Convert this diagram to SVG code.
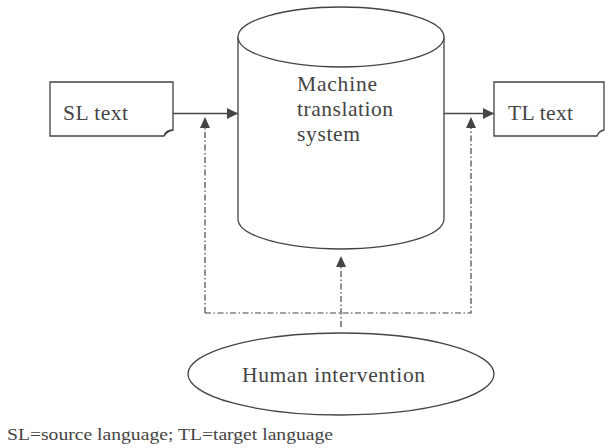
<svg xmlns="http://www.w3.org/2000/svg" width="614" height="448" viewBox="0 0 614 448">
<style>
.s{fill:#fff;stroke:#444;stroke-width:1.3}
.t{font-family:"Liberation Serif",serif;fill:#444;font-size:21.5px}
.c{fill:none;stroke:#444;stroke-width:1.3}
.d{fill:none;stroke:#444;stroke-width:1.2;stroke-dasharray:6,2.5,1.5,2.5}
</style>
<defs>
<marker id="ah" viewBox="0 0 10 10" refX="10" refY="5" markerWidth="11" markerHeight="11" markerUnits="userSpaceOnUse" orient="auto">
<path d="M0,0 L10,5 L0,10 z" fill="#444"/>
</marker>
</defs>
<rect width="614" height="448" fill="#fff"/>
<g id="sl">
<path class="s" d="M50,82 H173 V130 Q166,130 164,136 H50 Z"/>
<path class="c" d="M164,136 Q167,131 173,130"/>
<text class="t" x="63" y="120" textLength="65" lengthAdjust="spacing">SL text</text>
</g>
<g id="mts">
<path class="s" d="M238,37 V219 A103,30 0 0 0 444,219 V37"/>
<ellipse class="s" cx="341" cy="37" rx="103" ry="30"/>
<text class="t" x="297" y="91" textLength="80" lengthAdjust="spacing">Machine</text>
<text class="t" x="297" y="116" textLength="96" lengthAdjust="spacing">translation</text>
<text class="t" x="297" y="141" textLength="63" lengthAdjust="spacing">system</text>
</g>
<g id="tl">
<path class="s" d="M494,82 H604 V130 Q599,131 597,136 H494 Z"/>
<text class="t" x="508" y="120" textLength="65" lengthAdjust="spacing">TL text</text>
</g>
<g id="human">
<ellipse class="s" cx="341" cy="374" rx="153" ry="41"/>
<text class="t" x="242" y="382" textLength="183" lengthAdjust="spacing">Human intervention</text>
</g>
<g id="connectors">
<line class="c" x1="173" y1="113.5" x2="238" y2="113.5" marker-end="url(#ah)"/>
<line class="c" x1="444" y1="113.5" x2="494" y2="113.5" marker-end="url(#ah)"/>
<path class="d" d="M205,313 V118"/>
<path class="d" d="M205,313 H471 V118"/>
<path class="d" d="M341,327 V256"/>
<path d="M200,128 L205,117 L210,128 Z" fill="#444"/>
<path d="M466,128 L471,117 L476,128 Z" fill="#444"/>
<path d="M336,267 L341,256 L346,267 Z" fill="#444"/>
</g>
<text x="7" y="440" textLength="326" lengthAdjust="spacingAndGlyphs" style="font-family:'Liberation Serif',serif;fill:#444;font-size:16px">SL=source language; TL=target language</text>
</svg>
